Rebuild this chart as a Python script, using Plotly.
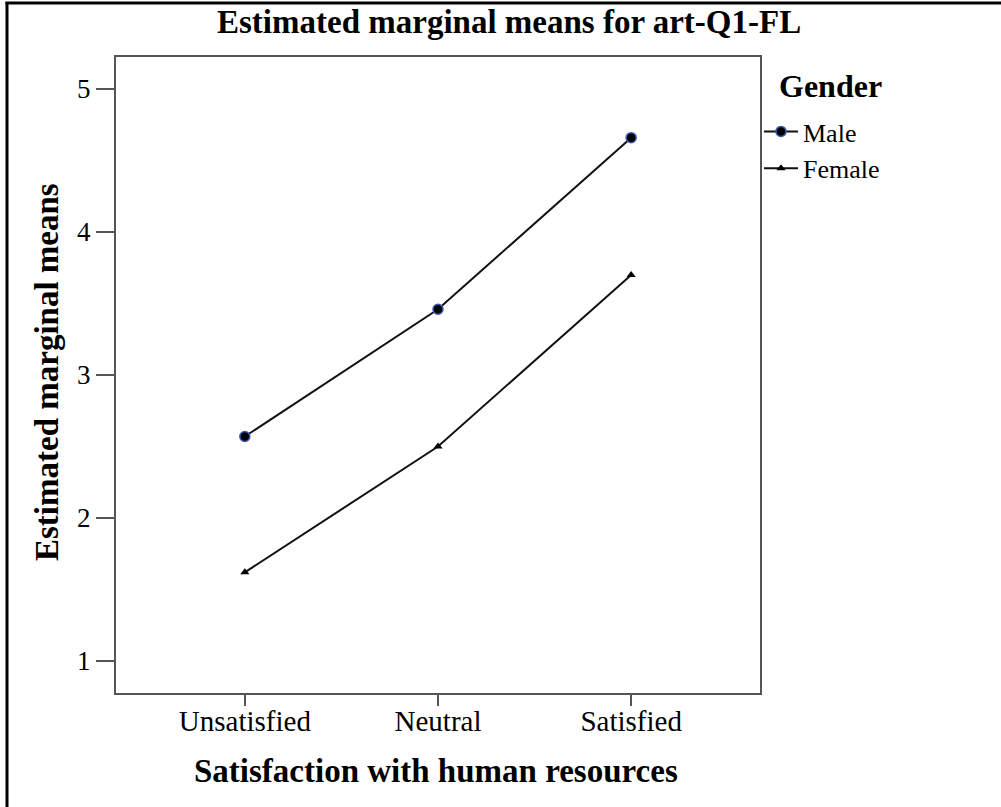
import plotly.graph_objects as go

categories = ["Unsatisfied", "Neutral", "Satisfied"]
male_means = [2.57, 3.46, 4.66]
female_means = [1.62, 2.50, 3.70]
y_ticks = [1, 2, 3, 4, 5]

W, H = 1001, 807
PL, PR, PT, PB = 116, 760, 57, 693          # plot area in page pixels
L, R, T, B = PL, W - PR, PT, H - PB
pw, ph = W - L - R, H - T - B


def px_x(x):
    return (x - L) / pw


def px_y(y):
    return (H - B - y) / ph


SERIF = "Liberation Serif, Times New Roman, serif"

fig = go.Figure()
fig.add_trace(go.Scatter(
    x=categories, y=male_means, mode="lines+markers", name="Male",
    line=dict(color="#111111", width=2),
    marker=dict(symbol="circle", size=10, color="black", line=dict(color="#3a5ab0", width=1.5)),
))
fig.add_trace(go.Scatter(
    x=categories, y=female_means, mode="lines+markers", name="Female",
    line=dict(color="#111111", width=2),
    marker=dict(symbol="triangle-up", size=8, color="black"),
))

fig.update_layout(
    width=W, height=H,
    margin=dict(l=L, r=R, t=T, b=B, autoexpand=False),
    paper_bgcolor="white", plot_bgcolor="white",
    font=dict(family=SERIF, color="black", size=20),
    showlegend=True,
    legend=dict(
        x=px_x(759), y=px_y(108), xanchor="left", yanchor="top",
        font=dict(size=26, family=SERIF),
        itemwidth=34, bgcolor="rgba(0,0,0,0)",
    ),
    xaxis=dict(
        type="category", range=[-0.667, 2.667],
        showline=True, linecolor="#555555", linewidth=2, mirror=True,
        ticks="outside", ticklen=11, tickwidth=2, tickcolor="#555555",
        ticklabelstandoff=-10,
        showgrid=False, zeroline=False,
        tickfont=dict(size=29, family=SERIF),
    ),
    yaxis=dict(
        range=[0.776, 5.224], tickvals=y_ticks,
        showline=True, linecolor="#555555", linewidth=2, mirror=True,
        ticks="outside", ticklen=18, tickwidth=2, tickcolor="#555555",
        showgrid=False, zeroline=False,
        tickfont=dict(size=27, family=SERIF),
    ),
    annotations=[
        dict(text="<b>Estimated marginal means for art-Q1-FL</b>", xref="paper", yref="paper",
             x=px_x(509), y=px_y(22), xanchor="center", yanchor="middle",
             showarrow=False, font=dict(size=33, family=SERIF)),
        dict(text="<b>Satisfaction with human resources</b>", xref="paper", yref="paper",
             x=px_x(436), y=px_y(771), xanchor="center", yanchor="middle",
             showarrow=False, font=dict(size=33, family=SERIF)),
        dict(text="<b>Estimated marginal means</b>", xref="paper", yref="paper",
             x=px_x(47), y=px_y(372), xanchor="center", yanchor="middle",
             showarrow=False, textangle=-90, font=dict(size=33, family=SERIF)),
        dict(text="<b>Gender</b>", xref="paper", yref="paper",
             x=px_x(777), y=px_y(86), xanchor="left", yanchor="middle",
             showarrow=False, font=dict(size=32, family=SERIF)),
    ],
    shapes=[
        dict(type="line", xref="paper", yref="paper", x0=px_x(7), x1=px_x(7),
             y0=px_y(2), y1=px_y(830), line=dict(color="black", width=3)),
        dict(type="line", xref="paper", yref="paper", x0=px_x(5.5), x1=px_x(1020),
             y0=px_y(3), y1=px_y(3), line=dict(color="black", width=3)),
    ],
)

fig.write_html(
    "out.html",
    config={"displayModeBar": False},
    post_script="document.body.style.margin='0';document.body.style.overflow='hidden';",
)
